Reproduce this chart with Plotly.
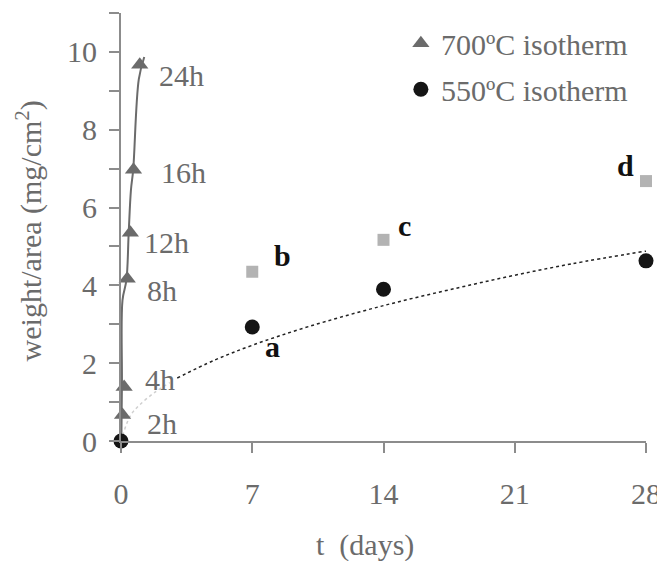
import plotly.graph_objects as go

# ---------------- data ----------------
T700_HOURS = [0, 2, 4, 8, 12, 16, 24]
T700_DAYS = [h / 24 for h in T700_HOURS]
W700 = [0.0, 0.67, 1.39, 4.17, 5.35, 6.97, 9.67]
HOUR_LABELS = ["2h", "4h", "8h", "12h", "16h", "24h"]
HOUR_LABEL_X = [1.28, 1.17, 1.28, 1.12, 2.03, 1.92]
HOUR_LABEL_Y = [0.46, 1.57, 3.88, 5.09, 6.89, 9.4]

# trend line drawn through the 700 C points
TREND700_T = [0.02, 0.05, 0.08, 0.29, 0.41, 0.53, 0.65, 0.95, 1.24]
TREND700_W = [0.0, 1.49, 3.62, 4.14, 5.35, 6.45, 6.97, 9.3, 9.87]

T550 = [0, 7, 14, 28]
W550 = [0.0, 2.93, 3.9, 4.63]

TSQ = [7, 14, 28]
WSQ = [4.35, 5.17, 6.68]

# parabolic fit curve
FIT_T_LIGHT = [0, 0.5, 1, 1.8, 2.6]
FIT_W_LIGHT = [0, 0.65, 0.93, 1.25, 1.50]
FIT_T = [3, 5, 7, 10, 14, 18, 21, 24, 28]
FIT_W = [1.62, 2.08, 2.46, 2.94, 3.48, 3.94, 4.26, 4.55, 4.88]

LETTERS = ["a", "b", "c", "d"]
LETTER_X = [8.1, 8.6, 15.1, 26.9]
LETTER_Y = [2.42, 4.78, 5.55, 7.09]

X_TICKS = [0, 7, 14, 21, 28]
Y_TICKS = [0, 2, 4, 6, 8, 10]

FONT = "Liberation Serif, Times New Roman, serif"
FS = 30
GRAY = "#6b6b6b"
AXIS = "#8c8c8c"

fig = go.Figure()

fig.add_trace(go.Scatter(x=TREND700_T, y=TREND700_W, mode="lines",
                         line=dict(color=GRAY, width=2, shape="spline"),
                         showlegend=False, hoverinfo="skip", cliponaxis=False))
fig.add_trace(go.Scatter(x=FIT_T_LIGHT, y=FIT_W_LIGHT, mode="lines",
                         line=dict(color="#cfcfcf", width=1.5, dash="dot", shape="spline"),
                         showlegend=False, hoverinfo="skip"))
fig.add_trace(go.Scatter(x=FIT_T, y=FIT_W, mode="lines",
                         line=dict(color="#222222", width=1.5, dash="dot", shape="spline"),
                         showlegend=False, hoverinfo="skip"))
fig.add_trace(go.Scatter(x=TSQ, y=WSQ, mode="markers",
                         marker=dict(symbol="square", size=12, color="#b3b3b3"),
                         showlegend=False, cliponaxis=False))
fig.add_trace(go.Scatter(x=T700_DAYS[1:], y=W700[1:], mode="markers", name="700ºC isotherm",
                         marker=dict(symbol="triangle-up", size=15, color=GRAY),
                         legendgroup="a", cliponaxis=False))
fig.add_trace(go.Scatter(x=T550, y=W550, mode="markers", name="550ºC isotherm",
                         marker=dict(symbol="circle", size=15, color="#151515"),
                         legendgroup="b", cliponaxis=False))

for lab, x, y in zip(HOUR_LABELS, HOUR_LABEL_X, HOUR_LABEL_Y):
    fig.add_annotation(x=x, y=y, text=lab, showarrow=False, xanchor="left",
                       yanchor="middle", font=dict(family=FONT, size=FS, color=GRAY))
for lab, x, y in zip(LETTERS, LETTER_X, LETTER_Y):
    fig.add_annotation(x=x, y=y, text="<b>" + lab + "</b>", showarrow=False,
                       xanchor="center", yanchor="middle",
                       font=dict(family=FONT, size=FS, color="#111111"))

fig.add_annotation(x=13.0, xref="x", y=-0.243, yref="paper", text="t  (days)",
                   showarrow=False, xanchor="center", yanchor="middle",
                   font=dict(family=FONT, size=FS, color=GRAY))
fig.add_annotation(x=-0.175, xref="paper", y=0.49, yref="paper",
                   text="weight/area (mg/cm<sup>2</sup>)", textangle=-90,
                   showarrow=False, xanchor="center", yanchor="middle",
                   font=dict(family=FONT, size=FS, color=GRAY))

fig.update_layout(
    width=657, height=561,
    margin=dict(l=121, r=11, t=13, b=120, autoexpand=False),
    plot_bgcolor="white", paper_bgcolor="white",
    font=dict(family=FONT, size=FS, color=GRAY),
    legend=dict(x=0.975, y=0.99, xanchor="right", yanchor="top",
                bgcolor="rgba(0,0,0,0)", tracegroupgap=4,
                font=dict(family=FONT, size=FS, color=GRAY)),
    xaxis=dict(range=[0, 28], tickvals=X_TICKS, showgrid=False, zeroline=False,
               showline=True, linecolor=AXIS, linewidth=2, automargin=False,
               ticks="outside", ticklen=10, tickwidth=2, tickcolor=AXIS,
               ticklabelstandoff=15, ticklabeloverflow="allow",
               tickfont=dict(family=FONT, size=FS, color=GRAY)),
    yaxis=dict(range=[0, 11], tickvals=Y_TICKS, showgrid=False, automargin=False,
               zeroline=False, showline=True, linecolor=AXIS, linewidth=2,
               ticks="outside", ticklen=10, tickwidth=2, tickcolor=AXIS,
               minor=dict(dtick=1, ticks="outside", ticklen=10, tickwidth=2,
                          tickcolor=AXIS, showgrid=False),
               ticklabelstandoff=6, ticklabeloverflow="allow",
               tickfont=dict(family=FONT, size=FS, color=GRAY)),
)

fig.write_html("out.html")
